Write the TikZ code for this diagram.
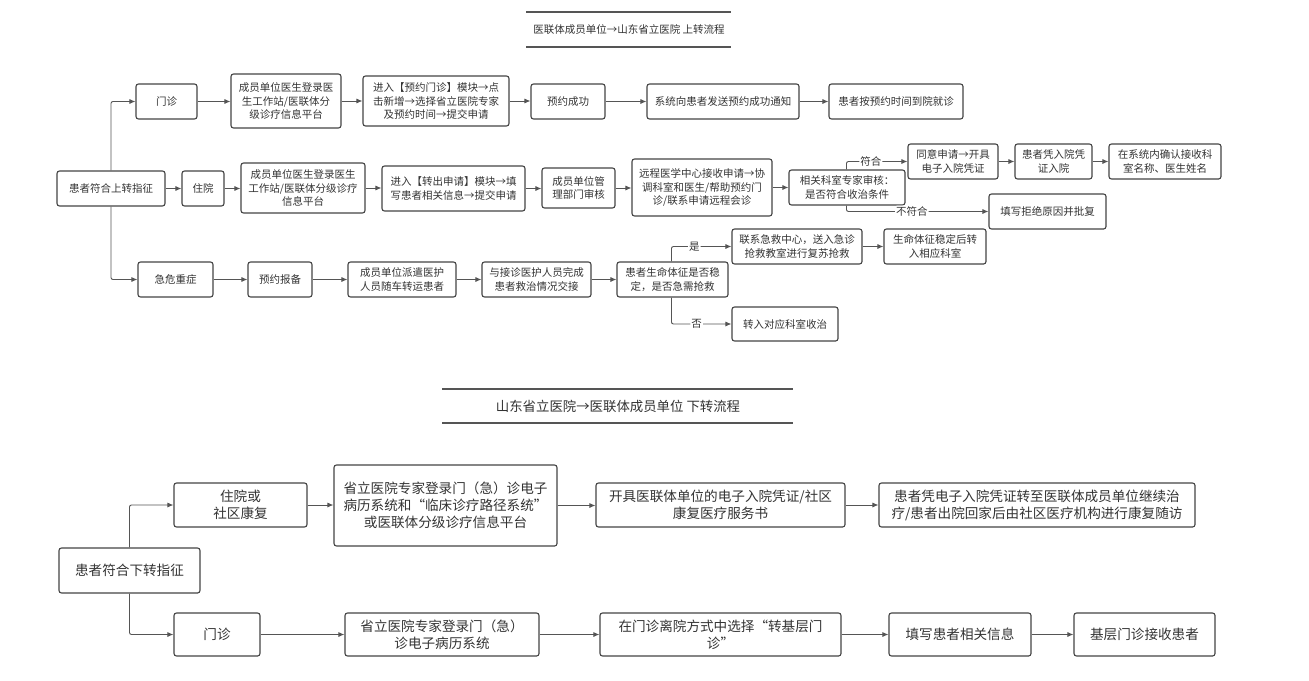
\documentclass[tikz,border=0pt]{standalone}
\usepackage{fontspec}
\setmainfont{Noto Sans CJK SC}
\usetikzlibrary{arrows.meta}
\definecolor{bd}{HTML}{454545}
\definecolor{ln}{HTML}{555555}
\definecolor{tx}{HTML}{333333}
\tikzset{
 bx/.style={draw=bd, line width=1.1pt, rounded corners=2.5pt, align=center, inner sep=0pt, text=tx},
 sm/.style={font=\fontsize{10.5}{13.3}\selectfont},
 lg/.style={font=\fontsize{13.6}{17}\selectfont},
 con/.style={draw=ln, line width=0.9pt, -{Latex[length=6pt,width=5pt]}, rounded corners=2pt},
 lbl/.style={fill=white, inner sep=1pt, text=tx, font=\fontsize{10.5}{12}\selectfont},
 tl/.style={draw=ln, line width=1.1pt},
}
\newcommand\bx[7]{\node[bx,#7, minimum width={(#4-#2)*1pt}, minimum height={(#5-#3)*1pt}] (#1) at ({(#2+#4)/2},{(#3+#5)/2}) {#6};}
\begin{document}
\begin{tikzpicture}[x=1pt,y=-1pt]
\fill[white] (0,0) rectangle (1309,680);
\useasboundingbox (0,0) rectangle (1309,680);
% titles
\draw[tl] (526,12) -- (731,12);
\draw[tl] (526,47) -- (731,47);
\node[text=tx, font=\fontsize{10.5}{12}\selectfont] (t1) at (629,30) {医联体成员单位→山东省立医院 上转流程};
\draw[tl] (442,389) -- (793,389);
\draw[tl] (442,423) -- (793,423);
\node[text=tx, font=\fontsize{13.4}{15}\selectfont] (t2) at (618,406) {山东省立医院→医联体成员单位 下转流程};
% top row 1
\bx{n1}{136}{84}{197}{119}{门诊}{sm}
\bx{n2}{231}{74}{341}{128}{成员单位医生登录医\\生工作站/医联体分\\级诊疗信息平台}{sm}
\bx{n3}{363}{76}{509}{126}{进入【预约门诊】模块→点\\击新增→选择省立医院专家\\及预约时间→提交申请}{sm}
\bx{n4}{531}{84}{605}{119}{预约成功}{sm}
\bx{n5}{647}{84}{799}{119}{系统向患者发送预约成功通知}{sm}
\bx{n6}{829}{84}{963}{119}{患者按预约时间到院就诊}{sm}
% row 2
\bx{n7}{57}{171}{165}{206}{患者符合上转指征}{sm}
\bx{n8}{182}{171}{224}{206}{住院}{sm}
\bx{n9}{241}{163}{365}{213}{成员单位医生登录医生\\工作站/医联体分级诊疗\\信息平台}{sm}
\bx{n10}{382}{166}{525}{211}{进入【转出申请】模块→填\\写患者相关信息→提交申请}{sm}
\bx{n11}{542}{168}{615}{208}{成员单位管\\理部门审核}{sm}
\bx{n12}{632}{159}{772}{216}{远程医学中心接收申请→协\\调科室和医生/帮助预约门\\诊/联系申请远程会诊}{sm}
\bx{n13}{789}{170}{905}{205}{相关科室专家审核：\\是否符合收治条件}{sm}
\bx{n14}{908}{144}{998}{179}{同意申请→开具\\电子入院凭证}{sm}
\bx{n15}{1015}{144}{1092}{179}{患者凭入院凭\\证入院}{sm}
\bx{n16}{1109}{144}{1221}{179}{在系统内确认接收科\\室名称、医生姓名}{sm}
\bx{n17}{989}{194}{1106}{229}{填写拒绝原因并批复}{sm}
% row 3
\bx{n18}{138}{262}{213}{297}{急危重症}{sm}
\bx{n19}{248}{262}{312}{297}{预约报备}{sm}
\bx{n20}{348}{262}{456}{297}{成员单位派遣医护\\人员随车转运患者}{sm}
\bx{n21}{482}{262}{591}{297}{与接诊医护人员完成\\患者救治情况交接}{sm}
\bx{n22}{617}{262}{728}{297}{患者生命体征是否稳\\定，是否急需抢救}{sm}
\bx{n23}{732}{229}{862}{264}{联系急救中心，送入急诊\\抢救教室进行复苏抢救}{sm}
\bx{n24}{884}{229}{986}{264}{生命体征稳定后转\\入相应科室}{sm}
\bx{n25}{732}{307}{838}{341}{转入对应科室收治}{sm}
% connectors top
\draw[con] (n7.north) |- (n1.west);
\draw[con] (n7.south) |- (n18.west);
\draw[con] (n7.east) -- (n7.east -| n8.west);
\draw[con] (n1.east) -- (n1.east -| n2.west);
\draw[con] (n2.east) -- (n2.east -| n3.west);
\draw[con] (n3.east) -- (n3.east -| n4.west);
\draw[con] (n4.east) -- (n4.east -| n5.west);
\draw[con] (n5.east) -- (n5.east -| n6.west);
\draw[con] (n8.east) -- (n8.east -| n9.west);
\draw[con] (n9.east) -- (n9.east -| n10.west);
\draw[con] (n10.east) -- (n10.east -| n11.west);
\draw[con] (n11.east) -- (n11.east -| n12.west);
\draw[con] (n12.east) -- (n12.east -| n13.west);
\draw[con] ([xshift=58pt]n13.north west) |- node[lbl,pos=0.7]{符合} (n14.west);
\draw[con] ([xshift=58pt]n13.south west) |- node[lbl,pos=0.73]{不符合} (n17.west);
\draw[con] (n14.east) -- (n14.east -| n15.west);
\draw[con] (n15.east) -- (n15.east -| n16.west);
\draw[con] (n18.east) -- (n18.east -| n19.west);
\draw[con] (n19.east) -- (n19.east -| n20.west);
\draw[con] (n20.east) -- (n20.east -| n21.west);
\draw[con] (n21.east) -- (n21.east -| n22.west);
\draw[con] ([xshift=55pt]n22.north west) |- node[lbl,pos=0.69]{是} (n23.west);
\draw[con] ([xshift=55pt]n22.south west) |- node[lbl,pos=0.71]{否} (n25.west);
\draw[con] (n23.east) -- (n23.east -| n24.west);
% bottom section
\bx{b1}{59}{548}{200}{593}{患者符合下转指征}{lg}
\bx{b2}{174}{483}{307}{527}{住院或\\社区康复}{lg}
\bx{b3}{334}{465}{557}{546}{省立医院专家登录门（急）诊电子\\病历系统和“临床诊疗路径系统”\\或医联体分级诊疗信息平台}{lg}
\bx{b4}{596}{483}{845}{527}{开具医联体单位的电子入院凭证/社区\\康复医疗服务书}{lg}
\bx{b5}{879}{483}{1195}{527}{患者凭电子入院凭证转至医联体成员单位继续治\\疗/患者出院回家后由社区医疗机构进行康复随访}{lg}
\bx{b6}{174}{613}{260}{656}{门诊}{lg}
\bx{b7}{345}{613}{539}{656}{省立医院专家登录门（急）\\诊电子病历系统}{lg}
\bx{b8}{600}{613}{841}{656}{在门诊离院方式中选择“转基层门\\诊”}{lg}
\bx{b9}{889}{613}{1031}{656}{填写患者相关信息}{lg}
\bx{b10}{1074}{613}{1215}{656}{基层门诊接收患者}{lg}
\draw[con] (b1.north) |- (b2.west);
\draw[con] (b1.south) |- (b6.west);
\draw[con] (b2.east) -- (b2.east -| b3.west);
\draw[con] (b3.east) -- (b3.east -| b4.west);
\draw[con] (b4.east) -- (b4.east -| b5.west);
\draw[con] (b6.east) -- (b6.east -| b7.west);
\draw[con] (b7.east) -- (b7.east -| b8.west);
\draw[con] (b8.east) -- (b8.east -| b9.west);
\draw[con] (b9.east) -- (b9.east -| b10.west);
\end{tikzpicture}
\end{document}
